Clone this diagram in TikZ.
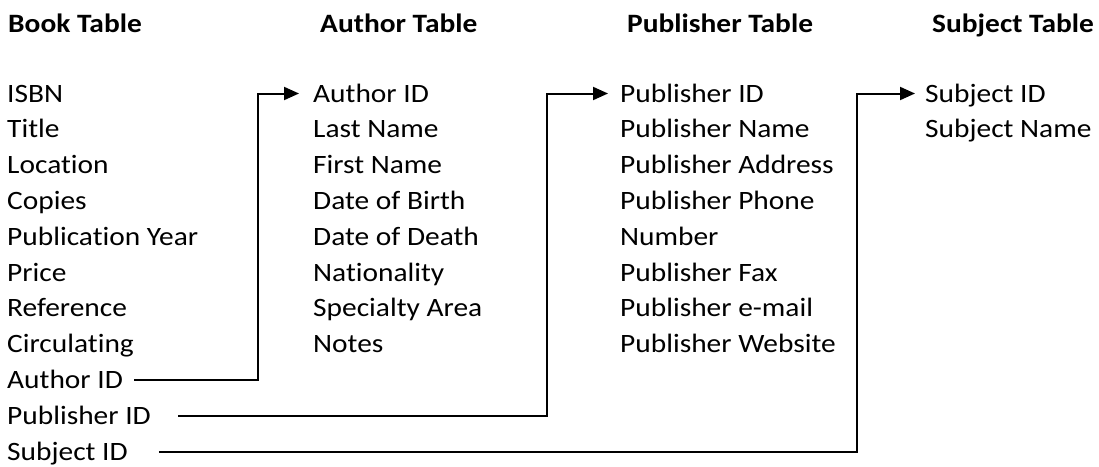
\documentclass[tikz,border=0pt]{standalone}
\usepackage{fontspec}
\setmainfont{Carlito}[Ligatures=NoCommon,FakeStretch=1.11]
\usetikzlibrary{arrows.meta}
\begin{document}
\begin{tikzpicture}[x=1pt,y=-1pt,
  item/.style={anchor=base west,inner sep=0pt,font=\fontsize{26.5}{32}\selectfont,text height=17pt,text depth=0pt},
  head/.style={item,font=\fontsize{26.5}{32}\selectfont\bfseries},
  link/.style={line width=2pt,-{Triangle[length=15pt,width=13pt]}}]
\useasboundingbox (0,0) rectangle (1099,466);
% headings
\node[head] (hbook) at (8,32) {Book Table};
\node[head] (hauth) at (320,32) {Author Table};
\node[head] (hpub) at (627,32) {Publisher Table};
\node[head] (hsub) at (932,32) {Subject Table};
% book column
\foreach \t [count=\i from 0] in {ISBN,Title,Location,Copies,Publication Year,Price,Reference,Circulating}
  \node[item] (b\i) at (7,{102+35.8*\i}) {\t};
\node[item] (bauth) at (7,{102+35.8*8}) {Author ID};
\node[item] (bpub) at (7,{102+35.8*9}) {Publisher ID};
\node[item] (bsub) at (7,{102+35.8*10}) {Subject ID};
% author column
\node[item] (aid) at (313,102) {Author ID};
\foreach \t [count=\i from 1] in {Last Name,First Name,Date of Birth,Date of Death,Nationality,Specialty Area,Notes}
  \node[item] (a\i) at (313,{102+35.8*\i}) {\t};
% publisher column
\node[item] (pid) at (620,102) {Publisher ID};
\foreach \t [count=\i from 1] in {Publisher Name,Publisher Address,Publisher Phone,Number,Publisher Fax,Publisher e-mail,Publisher Website}
  \node[item] (p\i) at (620,{102+35.8*\i}) {\t};
% subject column
\node[item] (sid) at (925,102) {Subject ID};
\node[item] (s1) at (925,{102+35.8}) {Subject Name};
% connectors
\draw[link] ([xshift=11pt]bauth.east) -| ([xshift=-55pt]aid.west) -- ([xshift=-14pt]aid.west);
\draw[link] ([xshift=27pt]bpub.east) -| ([xshift=-73pt]pid.west) -- ([xshift=-12pt]pid.west);
\draw[link] ([xshift=31pt]bsub.east) -| ([xshift=-68pt]sid.west) -- ([xshift=-10pt]sid.west);
\end{tikzpicture}
\end{document}
